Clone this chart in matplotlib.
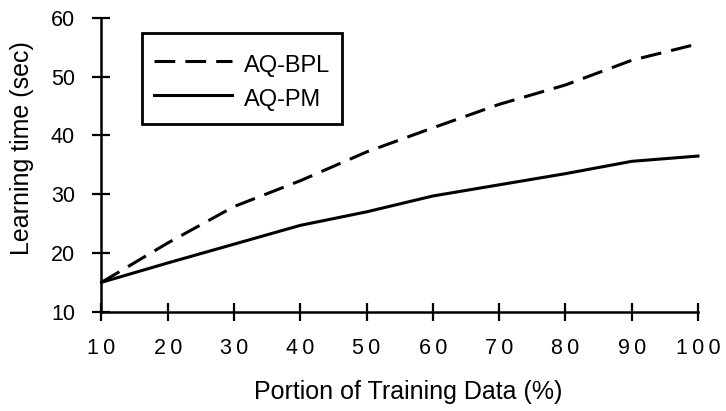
import matplotlib
matplotlib.use("Agg")
import matplotlib.pyplot as plt

plt.rcParams["font.family"] = ["Liberation Sans", "DejaVu Sans"]

# data
portion = [10, 20, 30, 40, 50, 60, 70, 80, 90, 100]
aq_bpl = [15.0, 21.7, 27.9, 32.3, 37.2, 41.3, 45.3, 48.6, 52.8, 55.6]
aq_pm = [15.0, 18.3, 21.5, 24.7, 27.0, 29.7, 31.6, 33.5, 35.6, 36.5]
x_ticks = [10, 20, 30, 40, 50, 60, 70, 80, 90, 100]
y_ticks = [10, 20, 30, 40, 50, 60]

fig = plt.figure(figsize=(7.26, 4.11), dpi=100)
ax = fig.add_axes([0.1398, 0.2416, 0.8216, 0.7146])

ax.plot(portion, aq_bpl, color="black", lw=2.2, linestyle=(0, (6.8, 3.3)),
        label="AQ-BPL", clip_on=False)
ax.plot(portion, aq_pm, color="black", lw=2.2, label="AQ-PM", clip_on=False)

ax.set_xlim(10, 100)
ax.set_ylim(10, 60)
ax.set_xticks(x_ticks)
ax.set_xticklabels(["\u2009".join(str(t)) for t in x_ticks])
ax.set_yticks(y_ticks)

for s in ["top", "right"]:
    ax.spines[s].set_visible(False)
for s in ["left", "bottom"]:
    ax.spines[s].set_linewidth(1.8)

ax.tick_params(direction="inout", length=13, width=1.6, labelsize=15.5, pad=12.5)

ax.set_xlabel("Portion of Training Data (%)", fontsize=18)
ax.xaxis.set_label_coords(0.515, -0.232)
ax.xaxis.label.set_va("top")
ax.set_ylabel("Learning time (sec)", fontsize=18)
ax.yaxis.set_label_coords(-0.113, 0.557)

# a tiny blank title only adds some room above the first entry
leg = ax.legend(loc="upper left", bbox_to_anchor=(142 / 726, 1 - 33 / 411),
                bbox_transform=fig.transFigure, borderaxespad=0, fontsize=17,
                fancybox=False, framealpha=1, edgecolor="black",
                handlelength=3.3, handleheight=1.52, handletextpad=0.5,
                borderpad=0.5, labelspacing=0.18, title=" ", title_fontsize=1)
leg.get_frame().set_linewidth(2)

fig.savefig("out.png", dpi=100)
